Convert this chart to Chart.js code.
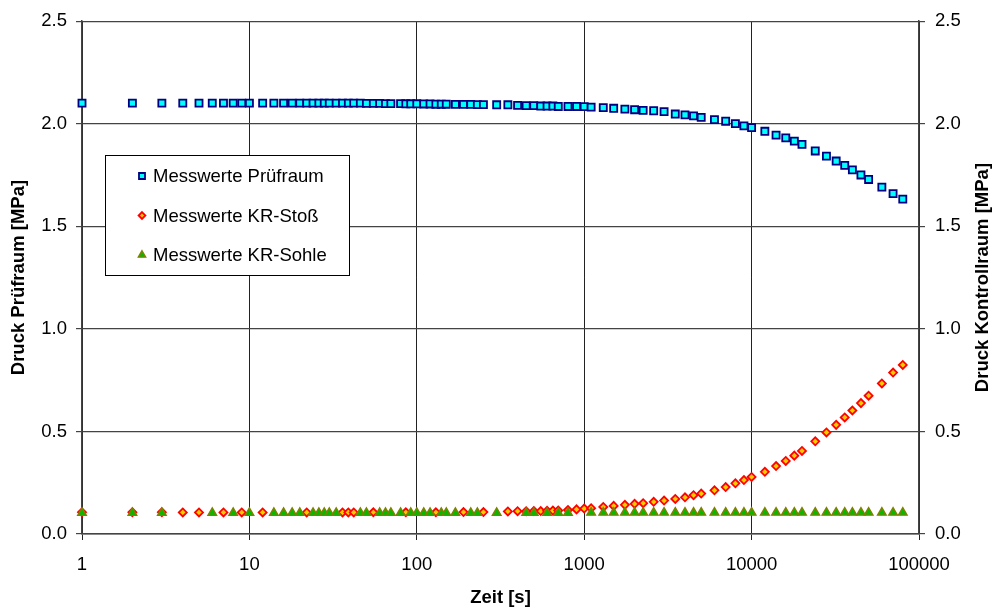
<!DOCTYPE html>
<html>
<head>
<meta charset="utf-8">
<script src="https://cdn.jsdelivr.net/npm/chart.js@4.4.0/dist/chart.umd.min.js"></script>
<style>
  html, body { margin: 0; padding: 0; background: #fff; }
  #wrap { width: 995px; height: 612px; }
</style>
</head>
<body>
<div id="wrap"><canvas id="chart" width="995" height="612"></canvas></div>
<script>
// time axis [s]
const times = [1, 2, 3, 4, 5, 6, 7, 8, 9, 10,
  12, 14, 16, 18, 20, 22, 24, 26, 28, 30,
  33, 36, 39, 42, 46, 50, 55, 60, 65, 70,
  80, 86, 92, 100, 110, 120, 130, 140, 150, 170,
  190, 210, 230, 250, 300, 350, 400, 450, 500, 550,
  600, 650, 700, 800, 900, 1000, 1100, 1300, 1500, 1750,
  2000, 2250, 2600, 3000, 3500, 4000, 4500, 5000, 6000, 7000,
  8000, 9000, 10000, 12000, 14000, 16000, 18000, 20000, 24000, 28000,
  32000, 36000, 40000, 45000, 50000, 60000, 70000, 80000];

const pruefraum = [2.10, 2.10, 2.10, 2.10, 2.10, 2.10, 2.10, 2.10, 2.10, 2.10,
  2.10, 2.10, 2.10, 2.10, 2.10, 2.10, 2.10, 2.10, 2.10, 2.10,
  2.10, 2.10, 2.10, 2.10, 2.10, 2.099, 2.099, 2.099, 2.098, 2.098,
  2.098, 2.097, 2.097, 2.097, 2.096, 2.096, 2.095, 2.095, 2.095, 2.094,
  2.094, 2.094, 2.093, 2.093, 2.092, 2.092, 2.089, 2.088, 2.088, 2.086,
  2.086, 2.086, 2.084, 2.084, 2.084, 2.083, 2.081, 2.078, 2.075, 2.071,
  2.068, 2.065, 2.063, 2.059, 2.047, 2.043, 2.038, 2.031, 2.020, 2.012,
  2.000, 1.989, 1.981, 1.963, 1.944, 1.931, 1.915, 1.899, 1.867, 1.842,
  1.818, 1.797, 1.775, 1.750, 1.728, 1.691, 1.659, 1.632];

const krStoss = [0.106, 0.106, 0.106, 0.105, 0.105, null, 0.105, null, 0.105, null,
  0.105, null, null, null, null, 0.105, null, null, null, null,
  null, 0.105, 0.105, 0.105, null, null, 0.106, null, null, null,
  null, 0.106, null, null, null, null, 0.106, null, null, null,
  0.107, null, null, 0.107, null, 0.110, 0.111, 0.111, 0.112, 0.112,
  0.113, 0.114, 0.115, 0.117, 0.120, 0.124, 0.126, 0.132, 0.137, 0.142,
  0.147, 0.150, 0.157, 0.163, 0.171, 0.179, 0.189, 0.197, 0.213, 0.229,
  0.247, 0.263, 0.278, 0.303, 0.331, 0.356, 0.382, 0.405, 0.452, 0.495,
  0.532, 0.568, 0.602, 0.638, 0.674, 0.734, 0.787, 0.824];

const krSohle = [0.103, 0.103, 0.103, null, null, 0.103, null, 0.103, null, 0.103,
  null, 0.103, 0.103, 0.103, 0.103, null, 0.103, 0.103, 0.103, 0.103,
  0.103, null, null, null, 0.103, 0.103, null, 0.103, 0.103, 0.103,
  0.103, null, 0.103, 0.103, 0.103, 0.103, null, 0.103, 0.103, 0.103,
  null, 0.103, 0.103, null, 0.103, null, null, 0.103, 0.103, null,
  0.103, null, 0.103, 0.103, null, null, 0.104, 0.104, 0.104, 0.104,
  0.104, 0.104, 0.104, 0.104, 0.104, 0.104, 0.104, 0.104, 0.104, 0.104,
  0.104, 0.104, 0.104, 0.104, 0.104, 0.104, 0.104, 0.104, 0.104, 0.104,
  0.104, 0.104, 0.104, 0.104, 0.104, 0.104, 0.104, 0.104];

const xTickValues = [1, 10, 100, 1000, 10000, 100000];
const seriesLabels = ['Messwerte Prüfraum', 'Messwerte KR-Stoß', 'Messwerte KR-Sohle'];

const FONT = "'Liberation Sans', Arial, sans-serif";
Chart.defaults.color = '#000000';
Chart.defaults.font.family = FONT;
Chart.defaults.font.size = 18.5;

function toPoints(values) {
  const pts = [];
  values.forEach((v, i) => {
    if (v !== null) pts.push({ x: times[i], y: v });
  });
  return pts;
}

// same shapes as chart.js rect / rectRot / triangle
function drawMarker(ctx, style, r, x, y) {
  ctx.beginPath();
  if (style === 'rect') {
    const s = Math.SQRT1_2 * r;
    ctx.rect(x - s, y - s, 2 * s, 2 * s);
  } else if (style === 'rectRot') {
    ctx.moveTo(x, y - r); ctx.lineTo(x + r, y); ctx.lineTo(x, y + r); ctx.lineTo(x - r, y);
    ctx.closePath();
  } else {
    ctx.moveTo(x, y - r);
    ctx.lineTo(x + r * Math.sin(Math.PI * 2 / 3), y - r * Math.cos(Math.PI * 2 / 3));
    ctx.lineTo(x - r * Math.sin(Math.PI * 2 / 3), y - r * Math.cos(Math.PI * 2 / 3));
    ctx.closePath();
  }
  ctx.fill();
  ctx.stroke();
}

const legendBox = {
  id: 'legendBox',
  beforeDatasetsDraw(chart) {
    const ctx = chart.ctx;
    ctx.save();
    ctx.fillStyle = '#ffffff';
    ctx.fillRect(105, 155, 244, 120);
    ctx.strokeStyle = '#000000';
    ctx.lineWidth = 1;
    ctx.strokeRect(105.5, 155.5, 244, 120);
    // legend in dataset index order, markers a bit smaller than in the plot
    chart.data.datasets.forEach((ds, i) => {
      const y = 176 + i * 39.5;
      ctx.fillStyle = ds.backgroundColor;
      ctx.strokeStyle = ds.borderColor;
      ctx.lineWidth = ds.borderWidth;
      drawMarker(ctx, ds.pointStyle, ds.pointRadius * 0.85, 142, y);
      ctx.fillStyle = '#000000';
      ctx.font = '18.5px ' + FONT;
      ctx.textAlign = 'left';
      ctx.textBaseline = 'middle';
      ctx.fillText(ds.label, 153, y + 1);
    });
    ctx.restore();
  }
};

// right title reads bottom-to-top like the left one
const rightTitle = {
  id: 'rightTitle',
  afterDraw(chart) {
    const ctx = chart.ctx;
    const area = chart.chartArea;
    ctx.save();
    ctx.translate(983, (area.top + area.bottom) / 2);
    ctx.rotate(-Math.PI / 2);
    ctx.font = 'bold 18.5px ' + FONT;
    ctx.fillStyle = '#000000';
    ctx.textAlign = 'center';
    ctx.textBaseline = 'middle';
    ctx.fillText('Druck Kontrollraum [MPa]', 0, 0);
    ctx.restore();
  }
};

const ctx = document.getElementById('chart').getContext('2d');
new Chart(ctx, {
  type: 'scatter',
  data: {
    datasets: [{
      label: seriesLabels[0],
      data: toPoints(pruefraum),
      pointStyle: 'rect',
      pointRadius: 5,
      backgroundColor: '#00FFFF',
      borderColor: '#000080',
      borderWidth: 1.8,
      clip: false,
      order: 0
    }, {
      label: seriesLabels[1],
      data: toPoints(krStoss),
      pointStyle: 'rectRot',
      pointRadius: 4,
      backgroundColor: '#FFCC00',
      borderColor: '#FF0000',
      borderWidth: 1.8,
      clip: false,
      order: 2
    }, {
      label: seriesLabels[2],
      data: toPoints(krSohle),
      pointStyle: 'triangle',
      pointRadius: 5,
      backgroundColor: '#00BB00',
      borderColor: '#808000',
      borderWidth: 1.4,
      clip: false,
      order: 1
    }]
  },
  options: {
    responsive: false,
    animation: false,
    layout: { padding: { top: 17, left: 0, right: 0, bottom: 0 } },
    plugins: {
      legend: { display: false },
      tooltip: { enabled: false }
    },
    scales: {
      x: {
        type: 'logarithmic',
        position: 'bottom',
        min: 1,
        max: 100000,
        afterBuildTicks: (scale) => { scale.ticks = xTickValues.map(v => ({ value: v })); },
        afterFit: (scale) => { scale.height = 78; },
        ticks: { callback: (v) => String(v), padding: 14, maxRotation: 0, autoSkip: false },
        grid: { color: '#222222', lineWidth: 1, tickLength: 6 },
        border: { color: '#444444', width: 1.5 },
        title: { display: true, text: 'Zeit [s]', font: { weight: 'bold' }, padding: { top: 0, bottom: 3 } }
      },
      y: {
        position: 'left',
        min: 0,
        max: 2.5,
        afterFit: (scale) => { scale.width = 82; },
        ticks: { stepSize: 0.5, callback: (v) => v.toFixed(1), padding: 9 },
        grid: { color: '#444444', lineWidth: 1.2, tickLength: 6 },
        border: { color: '#444444', width: 1.5 },
        title: { display: true, text: 'Druck Prüfraum [MPa]', font: { weight: 'bold' }, padding: { top: 8, bottom: 0 } }
      },
      y2: {
        position: 'right',
        min: 0,
        max: 2.5,
        afterFit: (scale) => { scale.width = 76; },
        ticks: { stepSize: 0.5, callback: (v) => v.toFixed(1), padding: 10 },
        grid: { drawOnChartArea: false, color: '#444444', lineWidth: 1.2, tickLength: 6 },
        border: { color: '#444444', width: 1.5 }
      }
    }
  },
  plugins: [legendBox, rightTitle]
});
</script>
</body>
</html>
